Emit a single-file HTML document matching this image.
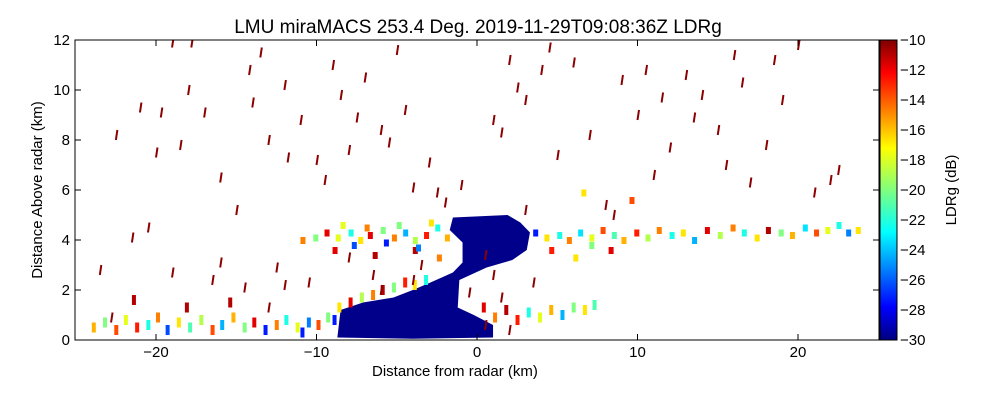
<!DOCTYPE html>
<html><head><meta charset="utf-8">
<style>
body{margin:0;background:#fff;width:1000px;height:400px;overflow:hidden;font-family:"Liberation Sans",sans-serif}
svg text{font-family:"Liberation Sans",sans-serif}
</style></head>
<body>
<svg id="chart" width="1000" height="400">
<defs>
<linearGradient id="jet" x1="0" y1="1" x2="0" y2="0">
<stop offset="0" stop-color="#00007f"/><stop offset="0.11" stop-color="#0000ff"/>
<stop offset="0.36" stop-color="#00ffff"/><stop offset="0.5" stop-color="#7fff7f"/>
<stop offset="0.64" stop-color="#ffff00"/><stop offset="0.89" stop-color="#ff0000"/>
<stop offset="1" stop-color="#7f0000"/>
</linearGradient>
<clipPath id="clip"><rect x="75" y="40" width="804" height="300"/></clipPath>
</defs>
<text x="478" y="33" font-size="19" text-anchor="middle">LMU miraMACS 253.4 Deg. 2019-11-29T09:08:36Z  LDRg</text>
<g id="marks" clip-path="url(#clip)"></g>
<rect x="75" y="40" width="804" height="300" fill="none" stroke="#000"/>
<g id="axes"></g>
<rect x="880" y="40" width="17" height="300" fill="url(#jet)" stroke="#000"/>
<text x="372" y="376" font-size="15">Distance from radar (km)</text>
<text transform="translate(42,190) rotate(-90)" font-size="15" text-anchor="middle">Distance Above radar  (km)</text>
<text transform="translate(956,190) rotate(-90)" font-size="15" text-anchor="middle">LDRg (dB)</text>
</svg>
<script>
const xTicks=[-20,-10,0,10,20];
const yTicks=[0,2,4,6,8,10,12];
const cTicks=[-10,-12,-14,-16,-18,-20,-22,-24,-26,-28,-30];
// dense blue echo outline (km)
const echoX=[-8.7,-4,1.0,1.0,-0.2,-1.2,-1.1,0.6,2.2,3.1,3.3,2.7,1.9,-1.5,-1.7,-0.9,-0.9,-1.5,-2.9,-4.0,-5.2,-7.1,-8.5];
const echoY=[0.1,0.05,0.1,0.6,1.0,1.3,2.4,2.9,3.2,3.6,4.3,4.7,5.0,4.9,4.4,3.9,3.1,2.7,2.3,2.0,1.7,1.5,1.2];
// upper layer marks: x, y (km), LDR
const layX=[-11,-10.2,-9.5,-8.8,-8,-7.4,-6.8,-6,-5.3,-4.6,-4,-3.3,-2.6,-2,3.5,4.2,5,5.6,6.3,7,7.7,8.4,9,9.8,10.5,11.2,12,12.7,13.4,14.2,15,15.8,16.5,17.3,18,18.8,19.5,20.3,21,21.7,22.4,23,23.6,-9,-6.5,-4,-2.5,4.5,6,7,8.2,6.5,9.5,-7.8,-5.8,-3.8,-8.5,-7,-5,-3];
const layY=[4.0,4.1,4.3,4.1,4.3,4.0,4.2,4.4,4.1,4.3,4.0,4.2,4.5,4.1,4.3,4.1,4.2,4.0,4.3,4.1,4.4,4.2,4.0,4.3,4.1,4.4,4.2,4.3,4.0,4.4,4.2,4.5,4.3,4.1,4.4,4.3,4.2,4.5,4.3,4.4,4.6,4.3,4.4,3.6,3.4,3.6,3.3,3.6,3.3,3.8,3.6,5.9,5.6,3.8,3.9,3.7,4.6,4.5,4.6,4.7];
const layV=[-15,-20,-12,-18,-22,-17,-12,-20,-15,-24,-19,-13,-22,-16,-27,-17,-22,-15,-23,-18,-14,-21,-16,-13,-19,-15,-22,-17,-24,-12,-19,-15,-22,-17,-11,-20,-16,-23,-14,-18,-22,-25,-17,-12,-11,-11,-15,-13,-17,-20,-12,-17,-14,-26,-27,-25,-18,-15,-20,-17];
// low layer marks
const lowX=[-24,-23.3,-22.6,-22,-21.3,-20.6,-20,-19.4,-18.7,-18,-17.3,-16.6,-16,-15.3,-14.6,-14,-13.3,-12.6,-12,-11.3,-10.6,-10,-9.4,-8.7,-8,-7.3,-6.6,-6,-5.3,-4.6,-4,-3.3,0.3,1,1.7,2.4,3.1,3.8,4.5,5.2,5.9,6.6,7.2,-21.5,-18.2,-15.5,-9,-11];
const lowY=[0.5,0.7,0.4,0.8,0.5,0.6,0.9,0.4,0.7,0.5,0.8,0.4,0.6,0.9,0.5,0.7,0.4,0.6,0.8,0.5,0.7,0.6,0.9,1.3,1.5,1.7,1.8,2.0,2.1,2.3,2.2,2.4,1.3,0.9,1.2,0.8,1.1,0.9,1.2,1.0,1.3,1.2,1.4,1.6,1.3,1.5,0.8,0.3];
const lowV=[-16,-20,-14,-18,-13,-22,-15,-26,-17,-21,-19,-14,-24,-16,-20,-12,-27,-15,-22,-18,-25,-14,-20,-17,-12,-19,-15,-11,-20,-13,-17,-22,-12,-15,-11,-13,-22,-18,-16,-24,-20,-17,-21,-11,-11,-11,-27,-27];
// sparse red streaks (x, y km)
const redX=[-22.5,-21,-20,-19,-18.5,-18,-17,-16,-15,-14,-13.5,-13,-12,-11,-10,-9,-8.5,-8,-7,-6,-5,-4.5,-4,-3,-2,-1,1,2,3,4,5,6,7,8,9,10,11,12,13,14,15,16,17,18,19,20,21,22,-23.5,-21.5,-19,-16.5,-14.5,-12.5,-10.5,-8,-6.5,-3.5,0.5,3,-19.7,-17.8,-14.2,-11.8,-9.5,-7.5,-5.5,-2.5,1.5,2.5,4.5,8.5,10.5,11.5,13.5,15.5,16.5,18.5,-6,-4,1,3.5,-16,-12,-20.5,-22.8,-13,22.5,0.5,1.5,2,-0.5];
const redY=[8.2,9.3,7.5,11.9,7.8,10,9.1,6.5,5.2,9.5,11.5,8,10.2,8.8,7.2,11,9.8,7.6,10.5,8.4,11.6,9.2,6.1,7.1,5.5,6.2,8.8,11.2,9.6,10.8,7.4,11.1,8.2,5.4,10.4,9,6.6,7.7,10.6,9.8,8.4,11.4,6.3,7.8,9.6,11.8,5.9,6.4,2.8,4.1,2.7,2.4,2.1,2.9,2.3,3.3,2.6,3.0,3.4,5.2,9.1,11.9,10.8,7.3,6.4,8.9,7.9,5.9,8.3,10.1,11.7,5.0,10.8,9.7,8.9,7.0,10.3,11.2,2.0,2.4,2.6,2.3,3.1,2.2,4.5,0.9,1.3,6.8,0.6,1.7,0.4,1.9];
const VMIN=-30,VMAX=-10;
const sx=v=>477+v*16.05, sy=v=>340-v*25;
function jet(v){let t=(v-VMIN)/(VMAX-VMIN);t=Math.max(0,Math.min(1,t));
 const f=x=>Math.round(255*Math.max(0,Math.min(1,1.5-Math.abs(4*t-x))));
 return `rgb(${f(3)},${f(2)},${f(1)})`;}
const NS="http://www.w3.org/2000/svg";
const g=document.getElementById('marks'), ax=document.getElementById('axes');
function mk(tag,attrs,parent){const e=document.createElementNS(NS,tag);for(const k in attrs)e.setAttribute(k,attrs[k]);parent.appendChild(e);return e;}
const pts=echoX.map((x,i)=>sx(x)+','+sy(echoY[i])).join(' ');
const poly=mk('polygon',{points:pts,fill:'#00008b'},g);


for(let i=0;i<layX.length;i++){
 const e=mk('rect',{x:sx(layX[i]),y:sy(layY[i])-3,width:5,height:7,fill:jet(layV[i])},g);
 
 
}
for(let i=0;i<lowX.length;i++){
 const e=mk('rect',{x:sx(lowX[i]),y:sy(lowY[i])-5,width:4,height:10,fill:jet(lowV[i])},g);
 
 
}
for(let i=0;i<redX.length;i++){
 const e=mk('line',{x1:sx(redX[i]),y1:sy(redY[i])+5,x2:sx(redX[i])+1.5,y2:sy(redY[i])-5,stroke:'#8b0000','stroke-width':2},g);
 
 
}
xTicks.forEach(v=>{const x=sx(v);
 mk('line',{x1:x,y1:340,x2:x,y2:334,stroke:'#000'},ax);mk('line',{x1:x,y1:40,x2:x,y2:46,stroke:'#000'},ax);
 const t=mk('text',{x:x,y:357,'font-size':15,'text-anchor':'middle'},ax);t.textContent=v<0?'\u2212'+(-v):v;
 
 });
yTicks.forEach(v=>{const y=sy(v);
 mk('line',{x1:75,y1:y,x2:81,y2:y,stroke:'#000'},ax);mk('line',{x1:879,y1:y,x2:873,y2:y,stroke:'#000'},ax);
 const t=mk('text',{x:70,y:y+5,'font-size':15,'text-anchor':'end'},ax);t.textContent=v;
 
 });
cTicks.forEach(v=>{const y=340-(v-VMIN)/(VMAX-VMIN)*300;
 mk('line',{x1:893,y1:y,x2:897,y2:y,stroke:'#000'},ax);
 const t=mk('text',{x:900,y:y+5,'font-size':15},ax);t.textContent='\u2212'+(-v);
 
 });
</script>
</body></html>
